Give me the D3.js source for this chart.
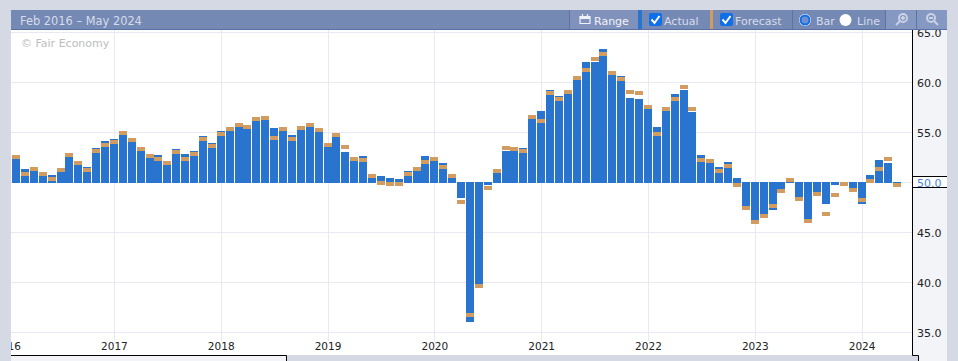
<!DOCTYPE html>
<html>
<head>
<meta charset="utf-8">
<script src="https://cdn.jsdelivr.net/npm/d3@7"></script>
<style>
  html, body { margin: 0; padding: 0; background: #d5d9e3; overflow: hidden; }
  svg { display: block; font-family: "DejaVu Sans", sans-serif; }
</style>
</head>
<body>
<svg id="chart" width="958" height="361"></svg>
<script>
// Feb 2016 to May 2024, one entry per month
const actual = [
  52.5, 51.4, 51.3, 50.8, 50.8, 51.2, 52.7, 51.9, 51.6, 53.5,
  54.2, 54.4, 54.9, 54.2, 53.3, 52.6, 52.8, 51.9, 53.4, 52.9,
  53.2, 54.7, 54.0, 55.2, 55.3, 55.7, 55.4, 56.2, 56.3, 55.5,
  55.2, 54.8, 55.3, 55.6, 55.1, 53.6, 54.6, 53.1, 52.2, 52.7,
  50.5, 50.7, 50.5, 50.4, 51.2, 51.2, 52.7, 52.2, 52.0, 50.5,
  48.47, 36.1, 39.8, 49.75, 51.0, 53.2, 53.2, 53.5, 56.4, 57.2,
  59.3, 58.7, 58.9, 60.3, 62.1, 62.1, 63.4, 60.8, 60.7, 58.5,
  58.4, 57.4, 55.6, 57.2, 58.9, 59.3, 57.1, 52.8, 52.0, 51.6,
  52.1, 50.5, 47.6, 46.2, 46.8, 47.27, 49.3, 49.95, 48.5, 46.3,
  49.0, 47.87, 49.77, 50.0, 49.4, 47.87, 50.8, 52.3, 52.0, 50.1
];
const forecast = [
  52.6, 50.9, 51.4, 50.9, 50.4, 51.3, 52.8, 52.0, 51.3, 53.2,
  53.8, 54.1, 55.0, 54.3, 53.4, 52.7, 52.4, 52.0, 53.1, 52.4,
  52.9, 54.4, 53.7, 54.9, 55.4, 55.8, 55.6, 56.4, 56.5, 54.5,
  55.4, 54.4, 55.5, 55.8, 55.3, 53.8, 54.8, 53.6, 52.4, 52.3,
  50.7, 50.0, 49.9, 49.9, 50.9, 51.4, 52.1, 52.4, 51.6, 50.7,
  48.07, 36.77, 39.67, 49.47, 51.2, 53.5, 53.4, 53.2, 56.6, 56.2,
  59.0, 58.4, 59.1, 60.5, 61.3, 62.4, 62.9, 61.0, 60.4, 59.1,
  59.0, 57.6, 54.9, 57.4, 58.4, 59.6, 57.4, 52.3, 52.2, 51.2,
  51.7, 49.8, 47.5, 46.1, 46.7, 47.67, 49.17, 50.27, 48.37, 46.17,
  48.87, 46.87, 48.77, 49.87, 49.27, 48.27, 50.2, 51.4, 52.4, 49.8
];
const yearLabels = [2016, 2017, 2018, 2019, 2020, 2021, 2022, 2023, 2024];
const valueTicks = [35, 40, 45, 50, 55, 60, 65];
const baseValue = 50;

const svg = d3.select("#chart");

const left = 11, plotRight = 912, panelRight = 947;
const barWidth = 8;

// month index 0 is Feb 2016, so January of a year is (year - 2016) * 12 - 1
const x = d3.scaleLinear().domain([0, 99]).range([16, 897.2]);
const y = d3.scaleLinear().domain([35, 65]).range([332.5, 32.5]);
const yearIndex = year => (year - 2016) * 12 - 1;

svg.append("defs").append("clipPath").attr("id", "plot-clip")
  .append("rect").attr("x", left).attr("y", 30).attr("width", plotRight - left).attr("height", 325);

// panels
svg.append("rect").attr("x", left).attr("y", 30).attr("width", plotRight - left).attr("height", 325).attr("fill", "#fff");
svg.append("rect").attr("x", plotRight).attr("y", 30).attr("width", panelRight - plotRight).attr("height", 331).attr("fill", "#f3f4f8");
svg.append("rect").attr("x", left).attr("y", 355).attr("width", 275).attr("height", 6).attr("fill", "#f3f4f8");
svg.append("rect").attr("x", plotRight).attr("y", 355).attr("width", 6).attr("height", 6).attr("fill", "#d5d9e3");

const plot = svg.append("g").attr("clip-path", "url(#plot-clip)");

// grid
plot.append("g").selectAll("line").data(valueTicks).enter().append("line")
  .attr("x1", left).attr("x2", plotRight)
  .attr("y1", d => y(d)).attr("y2", d => y(d))
  .attr("stroke", "#e8e9f2");
plot.append("g").selectAll("line").data(yearLabels).enter().append("line")
  .attr("x1", d => Math.round(x(yearIndex(d))) + 0.5).attr("x2", d => Math.round(x(yearIndex(d))) + 0.5)
  .attr("y1", 30).attr("y2", 341)
  .attr("stroke", "#e8e9f2");

// bars, they stop half a pixel either side of the base line
plot.append("g").selectAll("rect").data(actual).enter().append("rect")
  .attr("x", (d, i) => x(i) - barWidth / 2)
  .attr("y", d => d >= baseValue ? y(d) : y(baseValue) - 0.5)
  .attr("width", barWidth)
  .attr("height", d => d >= baseValue ? y(baseValue) + 0.5 - y(d) : y(d) - y(baseValue) + 0.5)
  .attr("fill", "#2874ce")
  .attr("shape-rendering", "crispEdges");

// forecast markers
plot.append("g").selectAll("rect").data(forecast).enter().append("rect")
  .attr("x", (d, i) => x(i) - barWidth / 2)
  .attr("y", d => y(d) - 2)
  .attr("width", barWidth)
  .attr("height", 4)
  .attr("fill", "#d29b5f")
  .attr("shape-rendering", "crispEdges");

// watermark
svg.append("text").attr("x", 21).attr("y", 47).attr("font-size", 11).attr("fill", "#bdbdbd").text("© Fair Economy");

// year axis, the clip sits on a wrapper so the axis translate does not move it
const xAxis = svg.append("g").attr("clip-path", "url(#plot-clip)").append("g")
  .attr("transform", "translate(0,341)")
  .call(d3.axisBottom(x).tickValues(yearLabels.map(yearIndex))
    .tickFormat(d => 2016 + (d + 1) / 12).tickSize(0).tickPadding(2));
xAxis.select(".domain").remove();
xAxis.selectAll("text").attr("font-size", 10.5).attr("font-family", "DejaVu Sans").attr("fill", "#222");

// value axis
const yAxis = svg.append("g")
  .attr("transform", `translate(${plotRight},0)`)
  .call(d3.axisRight(y).tickValues(valueTicks).tickFormat(d3.format(".1f")).tickSize(0).tickPadding(5));
yAxis.select(".domain").remove();
yAxis.selectAll("text").attr("font-size", 11).attr("font-family", "DejaVu Sans").attr("fill", "#222");

// box around the 50.0 label
svg.append("rect").attr("x", plotRight).attr("y", 176.5).attr("width", panelRight - plotRight).attr("height", 11)
  .attr("fill", "#fff");
svg.append("text").attr("x", 917).attr("y", y(baseValue) + 4).attr("font-size", 11).attr("fill", "#4a86d6").text("50.0");
[176.5, 187.5].forEach(v => {
  svg.append("line").attr("x1", plotRight).attr("x2", panelRight).attr("y1", v).attr("y2", v).attr("stroke", "#000");
});

// black edges
const edge = d3.path();
edge.moveTo(plotRight + 0.5, 30);
edge.lineTo(plotRight + 0.5, 355.5);
edge.lineTo(918.5, 355.5);
edge.lineTo(918.5, 361);
edge.moveTo(left, 355.5);
edge.lineTo(286.5, 355.5);
edge.lineTo(286.5, 361);
svg.append("path").attr("d", edge.toString()).attr("fill", "none").attr("stroke", "#000");

// toolbar
const bar = svg.append("g");
bar.append("rect").attr("x", left).attr("y", 10).attr("width", panelRight - left).attr("height", 20).attr("fill", "#7589b5");
bar.append("rect").attr("x", left).attr("y", 29).attr("width", panelRight - left).attr("height", 1).attr("fill", "#5a6fa3");
bar.append("rect").attr("x", 570).attr("y", 10).attr("width", 68).attr("height", 19).attr("fill", "#8092bc");
bar.append("rect").attr("x", 886).attr("y", 10).attr("width", 61).attr("height", 19).attr("fill", "#8598c1");
bar.append("rect").attr("x", 638).attr("y", 10).attr("width", 4).attr("height", 19).attr("fill", "#2874ce");
bar.append("rect").attr("x", 710).attr("y", 10).attr("width", 3).attr("height", 19).attr("fill", "#d29b5f");
[569, 792, 885, 916].forEach(v => {
  bar.append("rect").attr("x", v).attr("y", 10).attr("width", 1).attr("height", 19).attr("fill", "#5f74a6");
});

const label = (text, px) => bar.append("text").attr("x", px).attr("y", 24.5)
  .attr("font-size", 11).attr("fill", "#d6dcea").text(text);
bar.append("text").attr("x", 20).attr("y", 25).attr("font-size", 11.4).attr("fill", "#d6dcea").text("Feb 2016 – May 2024");
label("Range", 594).attr("fill", "#f0f2f7");
label("Actual", 664);
label("Forecast", 735);
label("Bar", 816);
label("Line", 857);

// calendar icon
bar.append("path").attr("d", "M580 16.5h10v7h-10z M582.5 14v2 M587.5 14v2")
  .attr("fill", "none").attr("stroke", "#f0f2f7").attr("stroke-width", 1.2);
bar.append("rect").attr("x", 580).attr("y", 16).attr("width", 10).attr("height", 3).attr("fill", "#f0f2f7");

// checkboxes
[649, 720].forEach(v => {
  bar.append("rect").attr("x", v).attr("y", 13).attr("width", 13).attr("height", 13).attr("rx", 2).attr("fill", "#0f6fe8");
  bar.append("path").attr("d", `M${v + 2.5} ${19.5}l3 3.5l5 -7`).attr("fill", "none").attr("stroke", "#fff").attr("stroke-width", 2);
});

// radios
bar.append("circle").attr("cx", 805).attr("cy", 20).attr("r", 6).attr("fill", "#fff");
bar.append("circle").attr("cx", 805).attr("cy", 20).attr("r", 4.5).attr("fill", "#6f8fd0").attr("stroke", "#0f6fe8").attr("stroke-width", 2);
bar.append("circle").attr("cx", 845.5).attr("cy", 20).attr("r", 6).attr("fill", "#fff");

// magnifiers
bar.append("circle").attr("cx", 903).attr("cy", 18).attr("r", 4).attr("fill", "none").attr("stroke", "#c9d2e4").attr("stroke-width", 2);
bar.append("path").attr("d", "M900 21l-4 4 M901 18h4 M903 16v4").attr("fill", "none").attr("stroke", "#c9d2e4").attr("stroke-width", 1.8);
bar.append("circle").attr("cx", 931).attr("cy", 18).attr("r", 4).attr("fill", "none").attr("stroke", "#c9d2e4").attr("stroke-width", 2);
bar.append("path").attr("d", "M934 21l4 4 M929 18h4").attr("fill", "none").attr("stroke", "#c9d2e4").attr("stroke-width", 1.8);
</script>
</body>
</html>
